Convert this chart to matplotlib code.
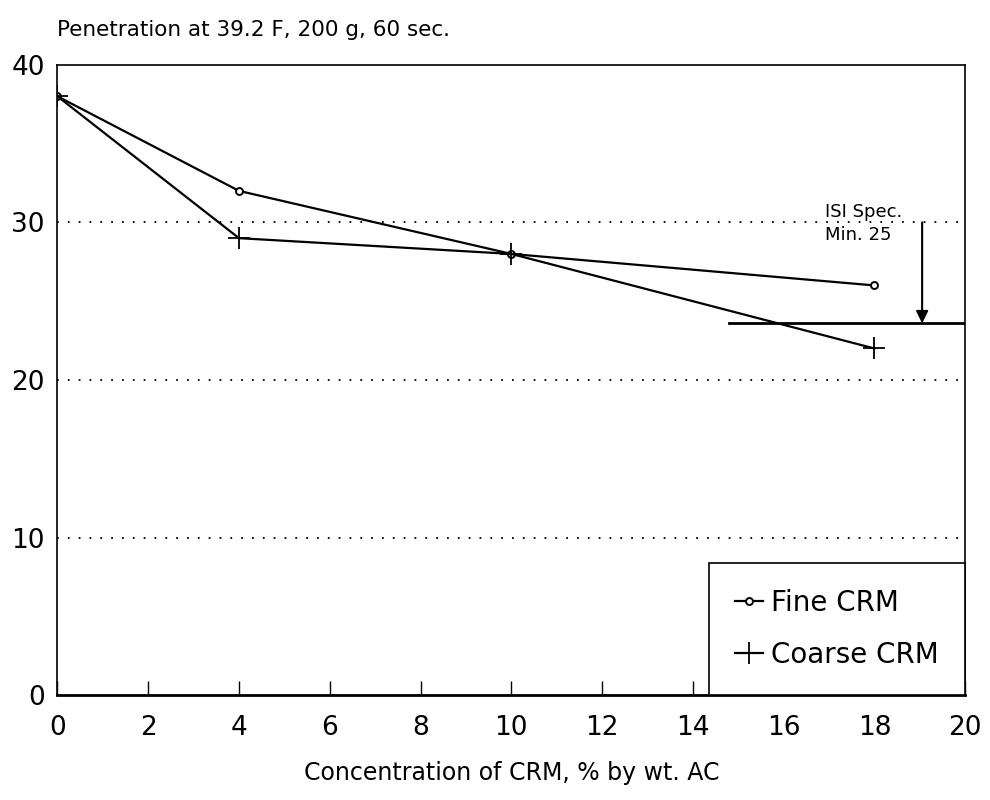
import matplotlib

matplotlib.use('agg')
import matplotlib.pyplot as plt

# data
conc = [0, 4, 10, 18]
fine_crm = [38, 32, 28, 26]
coarse_crm = [38, 29, 28, 22]
spec_min = 23.6
x_ticks = [0, 2, 4, 6, 8, 10, 12, 14, 16, 18, 20]
y_ticks = [0, 10, 20, 30, 40]

plt.rcParams['font.family'] = ['DejaVu Sans']

fig = plt.figure(figsize=(9.9, 8), dpi=100)
ax = fig.add_axes([0.058, 0.131, 0.917, 0.788])

# dotted grid lines
for y in [10, 20, 30]:
    ax.axhline(y, color='black', linestyle=(0, (1, 5)), linewidth=1.3, zorder=1)

ax.plot(conc, fine_crm, color='black', linewidth=1.6, marker='o', markersize=5,
        markerfacecolor='white', markeredgewidth=1.4, label='Fine CRM', zorder=3)
ax.plot(conc, coarse_crm, color='black', linewidth=1.6, marker='+', markersize=16,
        markeredgewidth=1.3, label='Coarse CRM', zorder=3)

# spec line + arrow
ax.plot([14.8, 20], [spec_min, spec_min], color='black', linewidth=2, zorder=2)
ax.annotate('', xy=(19.05, spec_min), xytext=(19.05, 30),
            arrowprops=dict(arrowstyle='-|>', color='black', lw=1.5,
                            mutation_scale=18, shrinkA=0, shrinkB=0))
ax.text(16.9, 29.95, 'ISI Spec.\nMin. 25', fontsize=13, ha='left', va='center',
        linespacing=1.35)

ax.set_xlim(0, 20)
ax.set_ylim(0, 40)
ax.set_xticks(x_ticks)
ax.set_yticks(y_ticks)
ax.tick_params(axis='x', direction='in', length=10, width=1, labelsize=19, pad=14)
ax.tick_params(axis='y', length=0, labelsize=19, pad=9)
for s in ax.spines.values():
    s.set_linewidth(1.2)
ax.spines['bottom'].set_linewidth(2)

ax.set_xlabel('Concentration of CRM, % by wt. AC', fontsize=17, labelpad=15)
fig.text(0.058, 0.962, 'Penetration at 39.2 F, 200 g, 60 sec.', fontsize=15.5,
         ha='left', va='center')

leg = ax.legend(loc='lower right', fontsize=20, frameon=True, fancybox=False,
                framealpha=1, handlelength=1.0, handletextpad=0.3,
                borderpad=0.95, labelspacing=0.85, borderaxespad=0)
leg.get_frame().set_edgecolor('black')
leg.get_frame().set_linewidth(1.2)

fig.savefig('out.png', dpi=100)
